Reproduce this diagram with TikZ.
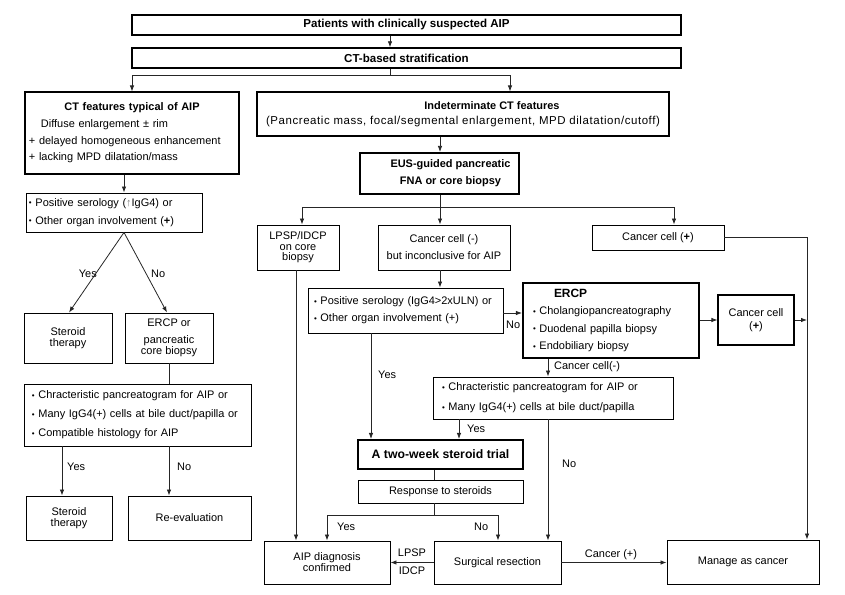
\documentclass[tikz,border=0pt]{standalone}
\usepackage{fontspec}
\setmainfont{Liberation Sans}
\usetikzlibrary{arrows.meta}
\newcommand\bul{{\fontsize{8}{8}\selectfont\raisebox{0.4bp}{•}}\ }
\newcommand\upar{{\color{gray}↑}}
\begin{document}
\begin{tikzpicture}[x=1bp,y=-1bp,
  box/.style={draw=black, line width=0.9bp, inner sep=0pt, align=center, font=\fontsize{11}{13}\selectfont},
  topbox/.style={box, line width=1.4bp, font=\fontsize{11.6}{13}\selectfont\bfseries},
  thickbox/.style={box, line width=2.1bp},
  arr/.style={-{Latex[length=6bp,width=4.5bp]}, line width=0.8bp, draw=black!85},
  ln/.style={line width=0.8bp, draw=black!85},
  lab/.style={inner sep=0pt, font=\fontsize{11}{13}\selectfont}]
\useasboundingbox (0,0) rectangle (845,595);

% ---------- boxes ----------
\node[topbox, minimum width=549bp, minimum height=20bp] (top) at (406.5,25) {Patients with clinically suspected AIP};
\node[topbox, minimum width=549bp, minimum height=20bp] (ctb) at (406.5,58) {CT-based stratification};

\node[box, line width=1.1bp, align=left, text width=206bp, inner xsep=4bp, minimum height=82bp, font=\fontsize{11}{16.7}\selectfont] (ctf) at (132,133)
 {\makebox[206bp][c]{\textbf{CT features typical of AIP}}\\\hspace*{12bp}Diffuse enlargement ± rim\\+ delayed homogeneous enhancement\\+ lacking MPD dilatation/mass};

\node[box, line width=1.1bp, font=\fontsize{11}{15}\selectfont, minimum width=412bp, minimum height=44bp] (indet) at (463,114)
 {\hspace*{58bp}\textbf{Indeterminate CT features}\\{\fontsize{11.5}{15}\selectfont\addfontfeatures{LetterSpace=5}(Pancreatic mass, focal/segmental enlargement, MPD dilatation/cutoff)}};

\node[thickbox, font=\fontsize{11}{17}\selectfont\bfseries, minimum width=159bp, minimum height=41bp] (eus) at (439.5,173.5)
 {\hspace*{22bp}EUS-guided pancreatic\\\hspace*{22bp}FNA or core biopsy};

\node[box, align=left, text width=170bp, inner xsep=3bp, minimum height=39bp, font=\fontsize{11}{18}\selectfont] (ser1) at (114,212.5)
 {\bul Positive serology (\upar IgG4) or\\\bul Other organ involvement (\textbf{+})};

\node[box, font=\fontsize{11}{10.5}\selectfont, minimum width=82bp, minimum height=45bp] (lpsp) at (298,247.5) {LPSP/IDCP\\on core\\biopsy};
\node[box, font=\fontsize{11}{17}\selectfont, minimum width=132bp, minimum height=45bp] (ccm) at (444,247.5) {Cancer cell (-)\\but inconclusive for AIP};
\node[box, minimum width=132bp, minimum height=25bp] (ccp) at (658,237.5) {Cancer cell (\textbf{+})};

\node[box, align=left, text width=183bp, inner xsep=6bp, minimum height=45bp, font=\fontsize{11}{17}\selectfont] (ser2) at (405.5,310.5)
 {\bul Positive serology (IgG4>2xULN) or\\\bul Other organ involvement (+)};

\node[thickbox, align=left, text width=156bp, inner xsep=10bp, minimum height=75bp, font=\fontsize{11}{17.7}\selectfont] (ercp) at (611,320.5)
 {\hspace*{21bp}{\fontsize{12}{17.7}\selectfont\bfseries ERCP}\\\bul Cholangiopancreatography\\\bul Duodenal papilla biopsy\\\bul Endobiliary biopsy};

\node[box, line width=1.1bp, minimum width=76bp, minimum height=50bp] (ccp2) at (756,320) {Cancer cell\\(\textbf{+})};

\node[box, font=\fontsize{11}{10.5}\selectfont, minimum width=88bp, minimum height=50bp] (ster1) at (68,338) {Steroid\\therapy};
\node[box, font=\fontsize{11}{10.5}\selectfont, minimum width=88bp, minimum height=50bp] (ercp1) at (169,338) {ERCP or\\[6.5bp]pancreatic\\core biopsy};

\node[box, align=left, text width=211bp, inner xsep=8bp, minimum height=62bp, font=\fontsize{11}{19}\selectfont] (char1) at (137.5,415)
 {\bul Chracteristic pancreatogram for AIP or\\\bul Many IgG4(+) cells at bile duct/papilla or\\\bul Compatible histology for AIP};

\node[box, align=left, text width=222bp, inner xsep=9bp, minimum height=42bp, font=\fontsize{11}{20}\selectfont] (char2) at (553,398)
 {\bul Chracteristic pancreatogram for AIP or\\\bul Many IgG4(+) cells at bile duct/papilla};

\node[thickbox, font=\fontsize{12.3}{14}\selectfont\bfseries, minimum width=165bp, minimum height=29bp] (trial) at (440.5,454.5) {A two-week steroid trial};
\node[box, minimum width=165bp, minimum height=23bp] (resp) at (440.5,491.5) {Response to steroids};

\node[box, font=\fontsize{11}{10.5}\selectfont, minimum width=86bp, minimum height=44bp] (ster2) at (69,518) {Steroid\\therapy};
\node[box, minimum width=123bp, minimum height=44bp] (reeval) at (189.5,518) {Re-evaluation};

\node[box, font=\fontsize{11}{11}\selectfont, minimum width=126bp, minimum height=43bp] (aip) at (327,562.5) {AIP diagnosis\\confirmed};
\node[box, minimum width=127bp, minimum height=43bp] (surg) at (497.5,562.5) {Surgical resection};
\node[box, minimum width=152bp, minimum height=44bp] (manage) at (743,562) {Manage as cancer};

% ---------- connectors ----------
\draw[arr] (390,0 |- top.south) -- (390,0 |- ctb.north);
\coordinate (s1) at (390,75);
\draw[ln] (390,0 |- ctb.south) -- (s1);
\draw[arr] (s1) -| (ctf.north);
\draw[arr] (s1) -| (510,0 |- indet.north);

\draw[arr] (124,0 |- ctf.south) -- (124,0 |- ser1.north);
\coordinate (s2) at (124,0 |- ser1.south);
\draw[arr] (s2) -- (69,0 |- ster1.north);
\draw[arr] (s2) -- (167,0 |- ercp1.north);
\draw[ln] (169,0 |- ercp1.south) -- (169,0 |- char1.north);
\draw[arr] (62,0 |- char1.south) -- (62,0 |- ster2.north);
\draw[arr] (169,0 |- char1.south) -- (169,0 |- reeval.north);

\draw[arr] (440,0 |- indet.south) -- (440,0 |- eus.north);
\coordinate (s3) at (440,207);
\draw[ln] (440,0 |- eus.south) -- (s3);
\draw[arr] (s3) -| (302,0 |- lpsp.north);
\draw[arr] (s3) -- (440,0 |- ccm.north);
\draw[arr] (s3) -| (674,0 |- ccp.north);

\draw[arr] (440,0 |- ccm.south) -- (440,0 |- ser2.north);
\draw[arr] (ser2.east |- 0,313) -- (ercp.west |- 0,313);
\draw[arr] (ercp.east |- ccp2.west) -- (ccp2.west);
\draw[arr] (ccp2.east) -- (807,0 |- ccp2.east);
\draw[arr] (ccp.east) -- (807,0 |- ccp.east) -- (807,0 |- manage.north);
\draw[arr] (548,0 |- ercp.south) -- (548,0 |- char2.north);

\draw[arr] (296,0 |- lpsp.south) -- (296,0 |- aip.north);
\draw[arr] (371,0 |- ser2.south) -- (371,0 |- trial.north);
\draw[arr] (459,0 |- char2.south) -- (459,0 |- trial.north);
\draw[arr] (548,0 |- char2.south) -- (548,0 |- surg.north);
\draw[ln] (434,0 |- trial.south) -- (434,0 |- resp.north);
\coordinate (s4) at (434,515);
\draw[ln] (434,0 |- resp.south) -- (s4);
\draw[arr] (s4) -| (327,0 |- aip.north);
\draw[arr] (s4) -| (498,0 |- surg.north);
\draw[arr] (surg.west) -- (aip.east);
\draw[arr] (surg.east) -- (surg.east -| manage.west);

% ---------- labels ----------
\node[lab, anchor=east] (lyes1) at (97,274) {Yes};
\node[lab, anchor=west] (lno1) at (151,274) {No};
\node[lab, anchor=west] (lyes2) at (67,467) {Yes};
\node[lab, anchor=west] (lno2) at (177,467) {No};
\node[lab, anchor=west] (lno3) at (506,325) {No};
\node[lab, anchor=west] (lcc) at (554,367) {Cancer cell(-)};
\node[lab, anchor=west] (lyes3) at (378,375) {Yes};
\node[lab, anchor=west] (lyes4) at (467,429) {Yes};
\node[lab, anchor=west] (lno4) at (562,464) {No};
\node[lab, anchor=west] (lyes5) at (337,527) {Yes};
\node[lab, anchor=west] (lno5) at (474,527) {No};
\node[lab] (llpsp) at (412,553) {LPSP};
\node[lab] (lidcp) at (412,571) {IDCP};
\node[lab] (lcanc) at (611,555) {Cancer (+)};
\end{tikzpicture}
\end{document}
